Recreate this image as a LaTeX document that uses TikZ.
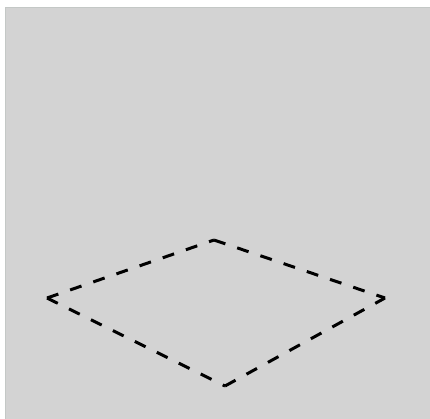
\documentclass[tikz,border=0pt]{standalone}
\usetikzlibrary{calc}
\definecolor{paneGray}{RGB}{211,211,211}
\definecolor{paneEdge}{RGB}{196,200,198}
\tikzset{
  pane/.style={fill=paneGray, draw=paneEdge, line width=1pt},
  rimline/.style={black, line width=3pt, dash pattern=on 12pt off 12.5pt},
}
\begin{document}
\begin{tikzpicture}[x=1pt,y=-1pt]
\useasboundingbox (0,0) rectangle (430,419);
\fill[white] (0,0) rectangle (430,419);
\draw[pane] (5.5,7.5) rectangle (431,420);
% rhombus seen at an angle
\coordinate (west)  at (47,298);
\coordinate (north) at (214,240);
\coordinate (east)  at (385,298);
\coordinate (south) at (225,386);
\draw[rimline] (west) -- (north);
\draw[rimline] (north) -- (east);
\draw[rimline] (west) -- (south);
\draw[rimline] (south) -- (east);
\end{tikzpicture}
\end{document}
